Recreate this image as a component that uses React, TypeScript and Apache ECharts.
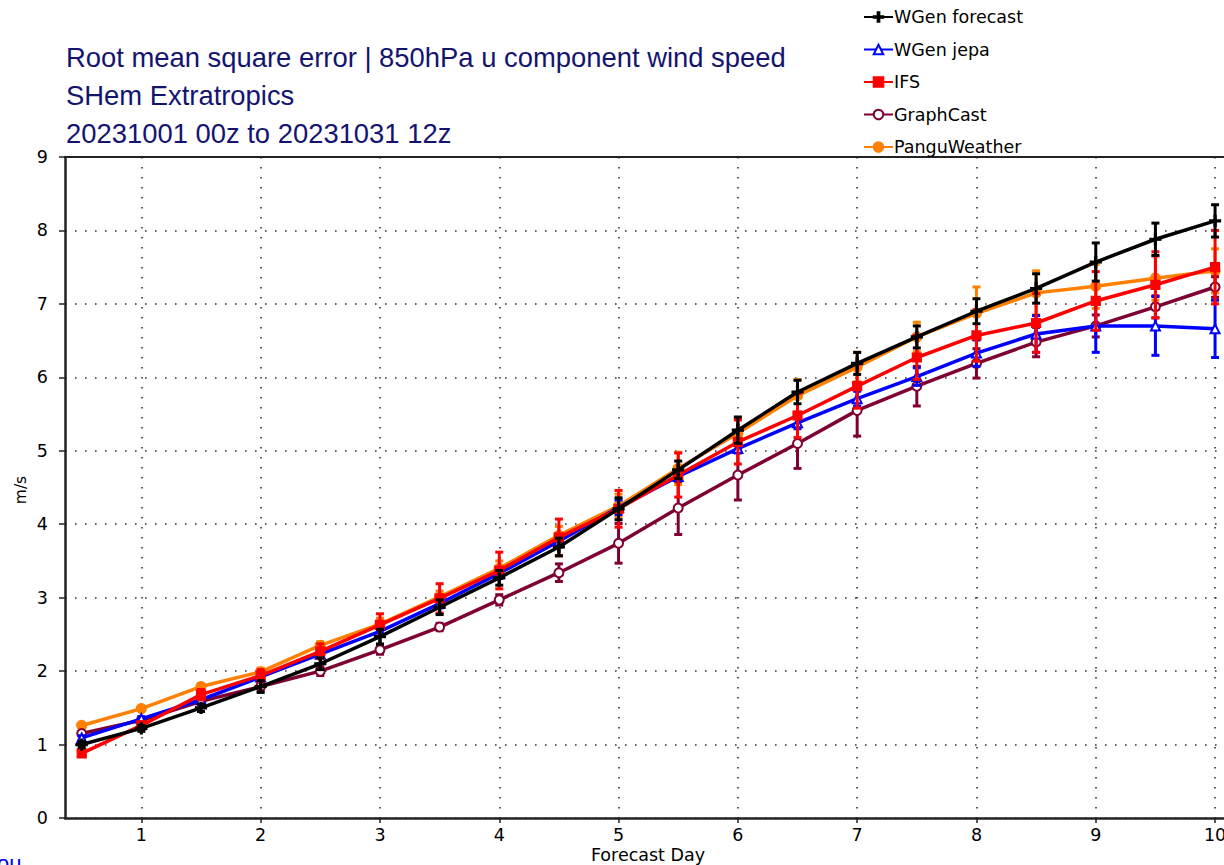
import React, { useEffect, useRef } from "react";
import * as echarts from "echarts";

const days = [0.5, 1, 1.5, 2, 2.5, 3, 3.5, 4, 4.5, 5, 5.5, 6, 6.5, 7, 7.5, 8, 8.5, 9, 9.5, 10];
const xTicks = [1, 2, 3, 4, 5, 6, 7, 8, 9, 10];

const wgenForecast = [1.0, 1.22, 1.5, 1.79, 2.1, 2.47, 2.87, 3.27, 3.69, 4.21, 4.74, 5.28, 5.8, 6.19, 6.55, 6.9, 7.21, 7.57, 7.88, 8.13];
const wgenForecastErr = [0.04, 0.04, 0.05, 0.08, 0.08, 0.1, 0.1, 0.1, 0.12, 0.15, 0.12, 0.18, 0.16, 0.15, 0.15, 0.17, 0.2, 0.26, 0.22, 0.22];

const wgenJepa = [1.09, 1.35, 1.61, 1.92, 2.23, 2.54, 2.92, 3.33, 3.77, 4.23, 4.65, 5.03, 5.38, 5.71, 6.01, 6.33, 6.59, 6.7, 6.7, 6.66];
const wgenJepaErr = [0.03, 0.03, 0.04, 0.05, 0.05, 0.06, 0.06, 0.07, 0.08, 0.1, 0.05, 0.06, 0.08, 0.1, 0.12, 0.18, 0.25, 0.36, 0.4, 0.39];

const ifs = [0.88, 1.26, 1.68, 1.94, 2.27, 2.63, 2.99, 3.37, 3.82, 4.21, 4.67, 5.12, 5.48, 5.88, 6.27, 6.57, 6.74, 7.04, 7.26, 7.5];
const ifsErr = [0.04, 0.05, 0.07, 0.08, 0.1, 0.15, 0.2, 0.25, 0.25, 0.25, 0.3, 0.3, 0.3, 0.3, 0.3, 0.35, 0.4, 0.4, 0.45, 0.5];

const graphCast = [1.15, 1.33, 1.59, 1.79, 2.0, 2.29, 2.6, 2.97, 3.34, 3.74, 4.22, 4.67, 5.1, 5.55, 5.88, 6.19, 6.48, 6.7, 6.96, 7.23];
const graphCastErr = [0.03, 0.04, 0.04, 0.06, 0.06, 0.06, 0.05, 0.07, 0.12, 0.27, 0.36, 0.34, 0.34, 0.35, 0.27, 0.2, 0.2, 0.15, 0.15, 0.14];

const pangu = [1.26, 1.49, 1.79, 1.99, 2.35, 2.64, 3.01, 3.4, 3.85, 4.25, 4.76, 5.24, 5.75, 6.14, 6.55, 6.87, 7.15, 7.24, 7.35, 7.45];
const panguErr = [0.03, 0.03, 0.04, 0.05, 0.05, 0.08, 0.08, 0.1, 0.12, 0.16, 0.22, 0.2, 0.22, 0.2, 0.2, 0.36, 0.3, 0.3, 0.3, 0.3];

const titleLines = [
  "Root mean square error | 850hPa u component wind speed",
  "SHem Extratropics",
  "20231001 00z to 20231031 12z",
];

const PLUS = "path://M0,4.1H10V5.9H0Z M4.1,0H5.9V10H4.1Z";

const models = [
  { name: "PanguWeather", values: pangu, err: panguErr, color: "#ff8000", symbol: "circle", size: 10, z: 2 },
  { name: "GraphCast", values: graphCast, err: graphCastErr, color: "#7f0033", symbol: "emptyCircle", size: 9, z: 3 },
  { name: "WGen jepa", values: wgenJepa, err: wgenJepaErr, color: "#0000ff", symbol: "emptyTriangle", size: 9, z: 4 },
  { name: "IFS", values: ifs, err: ifsErr, color: "#ff0000", symbol: "rect", size: 9, z: 5 },
  { name: "WGen forecast", values: wgenForecast, err: wgenForecastErr, color: "#000000", symbol: PLUS, size: 11, z: 6 },
];

const legendOrder = ["WGen forecast", "WGen jepa", "IFS", "GraphCast", "PanguWeather"];

export default function App() {
  const ref = useRef<HTMLDivElement>(null);
  useEffect(() => {
    if (!ref.current) return;
    const chart = echarts.init(ref.current, null, { renderer: "svg" });
    const dotted = { color: "#333", width: 1.6, type: [1.6, 8.4] as any };
    const series: any[] = [];
    models.forEach((m) => {
      series.push({
        name: m.name + " err",
        type: "custom",
        silent: true,
        z: m.z,
        encode: { x: 0, y: [1, 2] },
        data: days.map((d, i) => [d, m.values[i] - m.err[i], m.values[i] + m.err[i]]),
        renderItem: (params: any, api: any) => {
          const x = api.value(0);
          const lo = api.coord([x, api.value(1)]);
          const hi = api.coord([x, api.value(2)]);
          const st = { stroke: m.color, lineWidth: 3 };
          return {
            type: "group",
            children: [
              { type: "line", shape: { x1: lo[0], y1: lo[1], x2: hi[0], y2: hi[1] }, style: st },
              { type: "line", shape: { x1: lo[0] - 4, y1: lo[1], x2: lo[0] + 4, y2: lo[1] }, style: st },
              { type: "line", shape: { x1: hi[0] - 4, y1: hi[1], x2: hi[0] + 4, y2: hi[1] }, style: st },
            ],
          };
        },
      });
      series.push({
        name: m.name,
        type: "line",
        z: m.z,
        data: days.map((d, i) => [d, m.values[i]]),
        symbol: m.symbol,
        symbolSize: m.size,
        showAllSymbol: true,
        lineStyle: { color: m.color, width: 3.5 },
        itemStyle: { color: m.color, borderColor: m.color, borderWidth: 1.2 },
      });
    });

    chart.setOption({
      animation: false,
      backgroundColor: "#ffffff",
      textStyle: { fontFamily: "DejaVu Sans" },
      grid: { left: 65, top: 157, width: 1162, height: 661, containLabel: false },
      legend: {
        data: legendOrder,
        orient: "vertical",
        left: 858,
        top: 2,
        itemWidth: 29,
        itemHeight: 12,
        itemGap: 12.5,
        textStyle: { fontSize: 17.5, color: "#000", fontFamily: "DejaVu Sans", lineHeight: 20, padding: [0, 0, 0, -4] },
        selectedMode: false,
      },
      xAxis: [
        {
          type: "value",
          min: 0.36,
          max: 10.1,
          axisLine: { show: true, lineStyle: { color: "#222", width: 2.5 } },
          axisTick: { show: true, customValues: xTicks, length: 5, lineStyle: { color: "#222", width: 1.5 } },
          axisLabel: { customValues: xTicks, fontSize: 17.5, color: "#000", margin: 8, fontFamily: "DejaVu Sans" },
          splitLine: { show: true, lineStyle: dotted },
        },
        {
          type: "value",
          position: "top",
          min: 0.36,
          max: 10.1,
          axisLine: { show: true, lineStyle: { color: "#222", width: 2 } },
          axisTick: { show: false },
          axisLabel: { show: false },
          splitLine: { show: false },
        },
      ],
      yAxis: {
        type: "value",
        min: 0,
        max: 9,
        interval: 1,
        axisLine: { show: true, lineStyle: { color: "#222", width: 2.5 } },
        axisTick: { show: true, length: 6, lineStyle: { color: "#222", width: 1.5 } },
        axisLabel: { fontSize: 17.5, color: "#000", margin: 17, fontFamily: "DejaVu Sans" },
        splitLine: { show: true, lineStyle: dotted },
      },
      graphic: [
        ...titleLines.map((t, i) => ({
          type: "text",
          x: 66,
          y: 57 + i * 38,
          silent: true,
          style: { text: t, fill: "#141470", font: "27.4px 'Liberation Sans', sans-serif", verticalAlign: "middle" },
        })),
        {
          type: "text",
          x: 648,
          y: 855,
          silent: true,
          style: { text: "Forecast Day", fill: "#000", font: "17.5px 'DejaVu Sans'", align: "center", verticalAlign: "middle" },
        },
        {
          type: "text",
          x: 21,
          y: 490,
          rotation: Math.PI / 2,
          silent: true,
          style: { text: "m/s", fill: "#000", font: "15.5px 'DejaVu Sans'", align: "center", verticalAlign: "middle" },
        },
        {
          type: "text",
          x: -3,
          y: 852,
          silent: true,
          style: { text: "ou", fill: "#0000ff", font: "22px 'Liberation Sans'" },
        },
      ],
      series,
    });
    return () => chart.dispose();
  }, []);
  return (
    <div style={{ position: "fixed", left: 0, top: 0, width: 1224, height: 865, overflow: "hidden", background: "#fff" }}>
      <div ref={ref} style={{ width: 1240, height: 865 }} />
    </div>
  );
}
